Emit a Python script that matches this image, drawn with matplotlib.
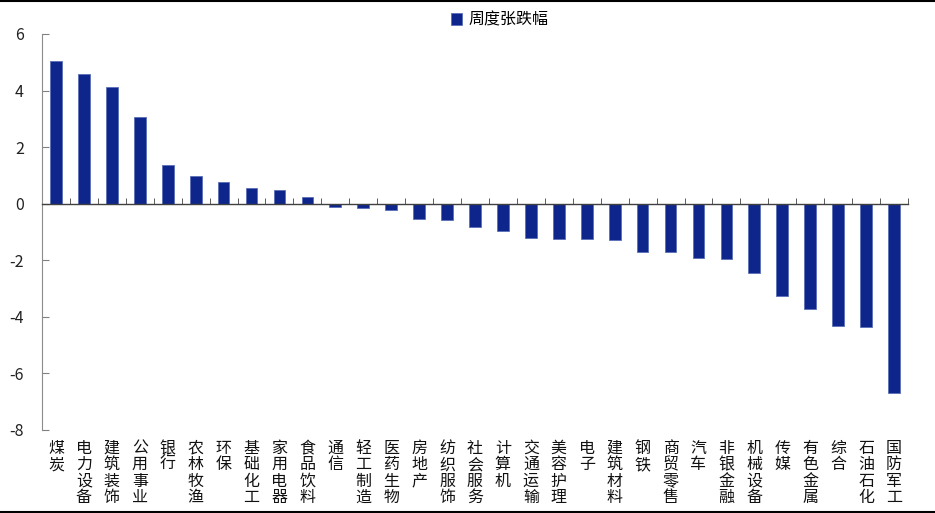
import matplotlib
matplotlib.use("Agg")
import matplotlib.pyplot as plt
from matplotlib.lines import Line2D

plt.rcParams['font.family'] = ['Noto Sans CJK SC', 'DejaVu Sans']

categories = ["煤炭", "电力设备", "建筑装饰", "公用事业", "银行", "农林牧渔", "环保", "基础化工",
              "家用电器", "食品饮料", "通信", "轻工制造", "医药生物", "房地产", "纺织服饰", "社会服务",
              "计算机", "交通运输", "美容护理", "电子", "建筑材料", "钢铁", "商贸零售", "汽车",
              "非银金融", "机械设备", "传媒", "有色金属", "综合", "石油石化", "国防军工"]
values = [5.05, 4.57, 4.12, 3.06, 1.37, 0.99, 0.76, 0.54, 0.50, 0.25, -0.12, -0.15, -0.23,
          -0.55, -0.59, -0.83, -0.95, -1.22, -1.25, -1.25, -1.30, -1.69, -1.70, -1.92, -1.95,
          -2.46, -3.26, -3.72, -4.33, -4.37, -6.68]
series_name = "周度张跌幅"
yticks = [-8, -6, -4, -2, 0, 2, 4, 6]

fig = plt.figure(figsize=(9.35, 5.13), dpi=100)
ax = fig.add_axes([42/935, 1-430/513, (908-42)/935, (430-34)/513])

x = list(range(len(categories)))
ax.bar(x, values, width=0.42, color='#0E268C', edgecolor='#5A6FB8', linewidth=0.6,
       label=series_name, zorder=2)

ax.set_xlim(-0.5, len(categories) - 0.5)
ax.set_ylim(-8, 6)
ax.set_yticks(yticks)
ax.set_yticklabels([str(v) for v in yticks], fontsize=11.5, color='#222222')
ax.tick_params(axis='y', direction='in', length=5, pad=13, color='#808080')

for s in ['top', 'right']:
    ax.spines[s].set_visible(False)
ax.spines['left'].set_color('#8C8C8C')
ax.spines['bottom'].set_position(('data', 0))
ax.spines['bottom'].set_color('#404040')
ax.spines['bottom'].set_linewidth(1.0)
ax.set_xticks(x)
ax.set_xticklabels([])
ax.tick_params(axis='x', which='major', length=0)
ax.set_xticks([i + 0.5 for i in range(-1, len(categories))], minor=True)
ax.tick_params(axis='x', which='minor', direction='in', length=4, color='#404040')

trans = ax.get_xaxis_transform()
for i, c in enumerate(categories):
    ax.text(i, -0.025, "\n".join(c), transform=trans, ha='center', va='top',
            fontsize=11.5, linespacing=0.95, color='#111111')

leg = fig.legend(loc='center', bbox_to_anchor=(500/935, 1-20/513), frameon=False,
                 fontsize=11.5, handlelength=0.7, handleheight=0.7, handletextpad=0.4)

fig.add_artist(Line2D([0, 1], [1-0.5/513, 1-0.5/513], color='black', linewidth=1.5,
                      transform=fig.transFigure))
fig.add_artist(Line2D([0, 1], [1.2/513, 1.2/513], color='black', linewidth=1.5,
                      transform=fig.transFigure))

fig.savefig("out.png", dpi=100)
